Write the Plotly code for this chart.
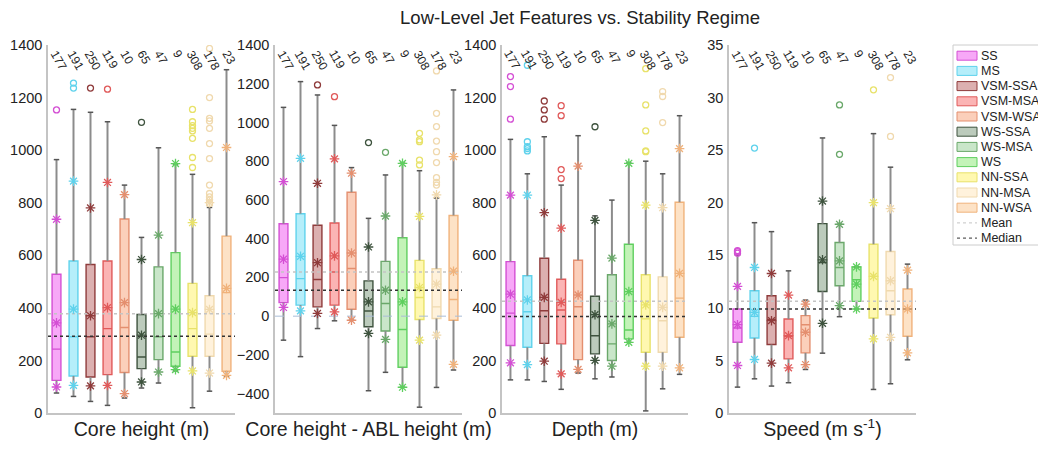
import plotly.graph_objects as go

groups = ["SS", "MS", "VSM-SSA", "VSM-MSA", "VSM-WSA", "WS-SSA", "WS-MSA", "WS",
          "NN-SSA", "NN-MSA", "NN-WSA"]
counts = [177, 191, 250, 119, 10, 65, 47, 9, 308, 178, 23]
fills = ["#f7a8f7", "#b5eefa", "#dcb0b0", "#fbb4b4", "#fbcfba", "#bccbbc", "#c9e6c9",
         "#c3f3b8", "#fff8b0", "#fff2dc", "#fde2c6"]
edges = ["#d44fd4", "#5fd2ec", "#8f3b3b", "#e05a5a", "#e48f6f", "#3e533e", "#6aa86a",
         "#5fcf5f", "#e8e26a", "#f0d9ae", "#f0b27b"]

# Panel 1: Core height (m)
core_q1 = [124, 141, 137, 146, 154, 169, 203, 178, 216, 216, 159]
core_med = [243, 290, 290, 321, 325, 213, 290, 232, 321, 300, 458]
core_q3 = [528, 578, 565, 578, 738, 375, 556, 610, 493, 446, 673]
core_lo = [76, 63, 44, 29, 57, 95, 114, 160, 20, 83, 140]
core_hi = [964, 1155, 1144, 1108, 867, 668, 1009, 947, 908, 782, 1306]
core_mean = [343, 395, 370, 401, 420, 296, 378, 395, 382, 394, 474]
core_p10 = [99, 105, 103, 105, 74, 118, 156, 165, 160, 152, 143]
core_p90 = [737, 882, 780, 877, 831, 584, 677, 949, 724, 800, 1010]
core_out = [[1153], [1236, 1255], [1236], [1232], [], [1106], [], [],
            [1155, 1108, 1093, 1083, 1073, 1045, 972, 934],
            [1387, 1200, 1121, 1111, 1083, 1025, 968, 867, 835, 822, 810, 797], []]

# Panel 2: Core height - ABL height (m)
rel_q1 = [70, 57, 48, 57, 36, -55, -77, -264, -17, -12, -21]
rel_med = [199, 194, 189, 228, 246, 27, 65, -69, 96, 48, 86]
rel_q3 = [477, 529, 469, 481, 640, 182, 283, 405, 288, 245, 520]
rel_lo = [-124, -209, -64, -24, -21, -385, -290, -367, -470, -368, -278]
rel_hi = [1078, 1211, 1142, 985, 767, 505, 729, 790, 751, 610, 1168]
rel_mean = [294, 309, 276, 311, 326, 74, 134, 74, 148, 165, 232]
rel_p10 = [45, 27, 14, 22, -21, -89, -120, -367, -124, -98, -249]
rel_p90 = [695, 815, 686, 812, 738, 357, 517, 789, 515, 626, 824]
rel_out = [[], [], [1194], [1133], [], [896], [846], [],
           [944, 910, 901, 806, 781],
           [1266, 1047, 979, 904, 849, 793, 715, 691, 677], []]

# Panel 3: Depth (m)
dep_q1 = [257, 250, 265, 263, 203, 225, 200, 282, 231, 231, 288]
dep_med = [380, 385, 389, 392, 404, 294, 263, 316, 358, 351, 437]
dep_q3 = [576, 522, 589, 509, 581, 444, 526, 642, 526, 518, 802]
dep_lo = [126, 126, 120, 90, 152, 130, 137, 269, 8, 92, 147]
dep_hi = [1041, 910, 1051, 867, 1055, 750, 810, 951, 958, 910, 1131]
dep_mean = [452, 430, 440, 421, 449, 374, 339, 462, 411, 402, 531]
dep_p10 = [191, 184, 197, 149, 166, 200, 178, 269, 178, 178, 172]
dep_p90 = [829, 829, 762, 703, 939, 733, 589, 950, 791, 781, 1006]
dep_out = [[1280, 1242, 1118], [1323, 1032, 1013, 1006, 997], [1187, 1153, 1118],
           [1169, 1131, 926, 892], [], [1089], [], [],
           [1310, 1172, 1073, 997, 994], [1223, 1204, 1105], []]

# Panel 4: Speed (m s-1)
spd_q1 = [6.73, 7.14, 6.51, 5.15, 5.72, 11.56, 12.10, 10.62, 9.04, 9.35, 7.30]
spd_med = [8.09, 9.19, 8.88, 7.30, 8.40, 14.31, 13.84, 12.67, 12.99, 11.63, 9.83]
spd_q3 = [9.89, 11.63, 11.15, 8.94, 9.26, 18.01, 16.21, 13.90, 16.05, 15.36, 11.79]
spd_lo = [2.46, 3.25, 2.56, 2.88, 4.14, 5.69, 9.16, 9.89, 2.24, 2.78, 5.06]
spd_hi = [15.0, 18.1, 17.25, 13.52, 10.74, 26.16, 17.95, 13.9, 26.57, 23.38, 14.16]
spd_mean = [8.40, 9.57, 8.78, 7.36, 7.68, 14.57, 14.47, 12.26, 12.99, 12.58, 9.89]
spd_p10 = [4.52, 5.09, 4.74, 4.30, 4.61, 8.53, 10.21, 9.89, 7.05, 7.20, 5.72]
spd_p90 = [12.04, 13.84, 13.27, 11.22, 10.36, 20.16, 17.95, 13.90, 20.0, 19.43, 13.59]
spd_out = [[15.2, 15.35, 15.45], [25.2], [], [], [], [], [29.3, 24.6], [], [30.74],
           [31.9, 26.3], []]

overall_mean = [378, 228, 425, 10.62]
overall_median = [292, 134, 367, 9.89]

titles = ["Core height (m)", "Core height - ABL height (m)", "Depth (m)",
          "Speed (m s<sup>-1</sup>)"]
y_ranges = [[0, 1400], [-500, 1400], [0, 1400], [0, 35]]
y_ticks = [list(range(0, 1401, 200)), list(range(-400, 1401, 200)),
           list(range(0, 1401, 200)), list(range(0, 36, 5))]

# The page body has an 8px margin, so the figure is offset by 8px in the window.
OFF = 8
FW, FH = 1046 - OFF, 449 - OFF


def px(xr):
    return (xr - OFF) / FW


def py(yr):
    return 1 - (yr - OFF) / FH


x_domains = [[px(48), px(235)], [px(275), px(462)], [px(502), px(688)], [px(729), px(916)]]
y_domain = [py(413), py(45)]

panels = [
    dict(q1=core_q1, med=core_med, q3=core_q3, lo=core_lo, hi=core_hi, mean=core_mean,
         p10=core_p10, p90=core_p90, out=core_out),
    dict(q1=rel_q1, med=rel_med, q3=rel_q3, lo=rel_lo, hi=rel_hi, mean=rel_mean,
         p10=rel_p10, p90=rel_p90, out=rel_out),
    dict(q1=dep_q1, med=dep_med, q3=dep_q3, lo=dep_lo, hi=dep_hi, mean=dep_mean,
         p10=dep_p10, p90=dep_p90, out=dep_out),
    dict(q1=spd_q1, med=spd_med, q3=spd_q3, lo=spd_lo, hi=spd_hi, mean=spd_mean,
         p10=spd_p10, p90=spd_p90, out=spd_out),
]

positions = list(range(1, len(groups) + 1))
CAP = 0.16
fig = go.Figure()
annotations = []
shapes = []
FONT = "Liberation Sans, Arial, sans-serif"
MEAN_COLOR = "#c4c4c4"
MEDIAN_COLOR = "#333333"

for k, P in enumerate(panels):
    xa = "x" if k == 0 else f"x{k + 1}"
    ya = "y" if k == 0 else f"y{k + 1}"
    # whiskers
    wx, wy, cx, cy = [], [], [], []
    for i, p in enumerate(positions):
        wx += [p, p, None, p, p, None]
        wy += [P["lo"][i], P["q1"][i], None, P["q3"][i], P["hi"][i], None]
        for v in (P["lo"][i], P["hi"][i]):
            cx += [p - CAP, p + CAP, None]
            cy += [v, v, None]
    fig.add_trace(go.Scatter(x=wx, y=wy, mode="lines", line=dict(color="#8c8c8c", width=2),
                             showlegend=False, hoverinfo="skip", xaxis=xa, yaxis=ya))
    fig.add_trace(go.Scatter(x=cx, y=cy, mode="lines", line=dict(color="#555555", width=1.5),
                             showlegend=False, hoverinfo="skip", xaxis=xa, yaxis=ya))
    # boxes
    for i, p in enumerate(positions):
        fig.add_trace(go.Box(
            x=[p], q1=[P["q1"][i]], median=[P["med"][i]], q3=[P["q3"][i]],
            lowerfence=[P["q1"][i]], upperfence=[P["q3"][i]],
            width=0.52, whiskerwidth=0, boxpoints=False,
            fillcolor=fills[i], line=dict(color=edges[i], width=1.4),
            name=groups[i], showlegend=False, xaxis=xa, yaxis=ya))
    # overall mean / median lines
    fig.add_trace(go.Scatter(x=[0.5, 11.5], y=[overall_mean[k]] * 2, mode="lines",
                             line=dict(color=MEAN_COLOR, width=1.5, dash="dot"),
                             name="Mean", showlegend=False, xaxis=xa, yaxis=ya))
    fig.add_trace(go.Scatter(x=[0.5, 11.5], y=[overall_median[k]] * 2, mode="lines",
                             line=dict(color=MEDIAN_COLOR, width=1.5, dash="dot"),
                             name="Median", showlegend=False, xaxis=xa, yaxis=ya))
    if k == 1:
        fig.add_trace(go.Scatter(x=[0.5, 11.5], y=[0, 0], mode="lines",
                                 line=dict(color="#a9bcd6", width=1, dash="dash"),
                                 showlegend=False, hoverinfo="skip", xaxis=xa, yaxis=ya))
    # mean and percentile asterisks
    ax_x = positions * 3
    ax_y = P["mean"] + P["p10"] + P["p90"]
    fig.add_trace(go.Scatter(x=ax_x, y=ax_y, mode="markers",
                             marker=dict(symbol="asterisk-open", size=8, color=edges * 3,
                                         line=dict(color=edges * 3, width=1.3)),
                             showlegend=False, hoverinfo="skip", xaxis=xa, yaxis=ya))
    # outliers
    ox, oy, oc = [], [], []
    for i, p in enumerate(positions):
        for v in P["out"][i]:
            ox.append(p)
            oy.append(v)
            oc.append(edges[i])
    fig.add_trace(go.Scatter(x=ox, y=oy, mode="markers",
                             marker=dict(symbol="circle-open", size=6, color=oc,
                                         line=dict(color=oc, width=1.3)),
                             showlegend=False, hoverinfo="skip", xaxis=xa, yaxis=ya))
    # count labels
    for i, p in enumerate(positions):
        annotations.append(dict(x=p, y=y_domain[1], xref=xa, yref="paper",
                                text=str(counts[i]), showarrow=False, textangle=60,
                                xanchor="center", yanchor="top", xshift=2,
                                font=dict(size=12, color="#222", family=FONT)))

# Hand-built legend (compact, like the reference)
LEG_X0, LEG_X1, LEG_Y0, LEG_Y1 = 953, 1042, 45, 245
ROW0, ROW_STEP = 55.7, 15.2
shapes.append(dict(type="rect", xref="paper", yref="paper",
                   x0=px(LEG_X0), x1=px(LEG_X1), y0=py(LEG_Y1), y1=py(LEG_Y0),
                   line=dict(color="#cccccc", width=1), fillcolor="white", layer="below"))
legend_names = groups + ["Mean", "Median"]
for j, name in enumerate(legend_names):
    yc = ROW0 + j * ROW_STEP
    if j < len(groups):
        shapes.append(dict(type="rect", xref="paper", yref="paper",
                           x0=px(957), x1=px(977), y0=py(yc + 4.5), y1=py(yc - 4.5),
                           fillcolor=fills[j], line=dict(color=edges[j], width=1)))
    else:
        col = MEAN_COLOR if name == "Mean" else MEDIAN_COLOR
        shapes.append(dict(type="line", xref="paper", yref="paper",
                           x0=px(957), x1=px(977), y0=py(yc), y1=py(yc),
                           line=dict(color=col, width=1, dash="dot")))
    annotations.append(dict(x=px(979), y=py(yc), xref="paper", yref="paper",
                            text=name, showarrow=False, xanchor="left", yanchor="middle",
                            font=dict(size=12.5, color="#222", family=FONT)))

layout_axes = {}
for k in range(4):
    xk = "xaxis" if k == 0 else f"xaxis{k + 1}"
    yk = "yaxis" if k == 0 else f"yaxis{k + 1}"
    xa = "x" if k == 0 else f"x{k + 1}"
    ya = "y" if k == 0 else f"y{k + 1}"
    layout_axes[xk] = dict(domain=x_domains[k], range=[0.5, 11.5], anchor=ya,
                           automargin=False,
                           showticklabels=False, ticks="", showgrid=False, zeroline=False,
                           showline=True, linecolor="#c4c4c4", linewidth=1.5,
                           title=dict(text=titles[k], standoff=9,
                                      font=dict(size=19.5, color="#222", family=FONT)))
    layout_axes[yk] = dict(domain=y_domain, range=y_ranges[k], automargin=False,
                           anchor=xa, tickvals=y_ticks[k], ticks="", showgrid=False,
                           zeroline=False, showline=True, linecolor="#c4c4c4",
                           linewidth=1.5, ticklabelstandoff=1,
                           tickfont=dict(size=14.5, color="#222", family=FONT))

fig.update_layout(
    width=FW, height=FH,
    margin=dict(l=0, r=0, t=0, b=0, pad=0, autoexpand=False),
    paper_bgcolor="white", plot_bgcolor="white",
    boxmode="overlay",
    showlegend=False,
    font=dict(family=FONT, color="#222"),
    title=dict(text="Low-Level Jet Features vs. Stability Regime", x=px(580),
               xanchor="center", y=py(18), yanchor="middle", automargin=False,
               font=dict(size=18.5, color="#222", family=FONT)),
    annotations=annotations,
    shapes=shapes,
    **layout_axes,
)

fig.write_html("out.html")
